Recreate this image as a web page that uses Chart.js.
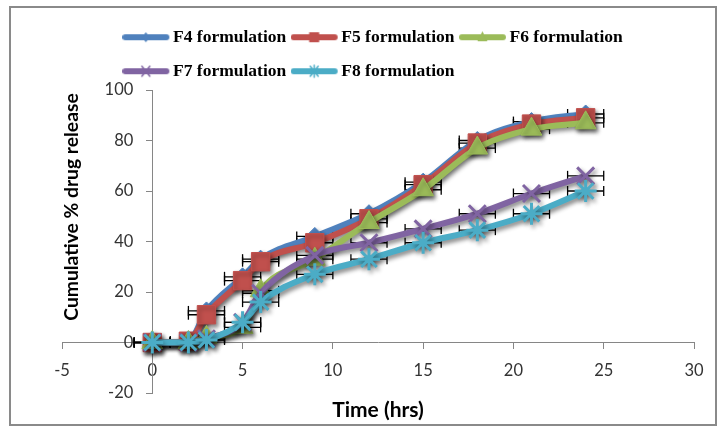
<!DOCTYPE html>
<html>
<head>
<meta charset="utf-8">
<script src="https://cdn.jsdelivr.net/npm/chart.js@4.4.1/dist/chart.umd.min.js"></script>
<style>
html, body { margin: 0; padding: 0; background: #ffffff; }
#wrap { width: 720px; height: 429px; position: relative; }
canvas { display: block; }
</style>
</head>
<body>
<div id="wrap"><canvas id="chart" width="720" height="429"></canvas></div>
<script>
// ---- data ----
const times = [0, 2, 3, 5, 6, 9, 12, 15, 18, 21, 24];           // hrs
const f4 = [0, 0.5, 12.5, 26, 33, 42, 51, 63.5, 80, 87.5, 90.5];
const f5 = [0, 0.5, 11, 24.5, 32, 39.5, 49, 62.5, 79, 86.5, 89];
const f6 = [0, 0, 2, 6, 20.5, 33, 47.5, 60.5, 77, 84.5, 87];
const f7 = [0, 0, 1.5, 8, 19.5, 34.5, 39.5, 45, 51, 59, 66];
const f8 = [0, 0, 1, 8, 16, 27, 33, 39.5, 44.5, 51, 60];
const timeErr = [1, 1, 1, 1, 1, 1, 1, 1, 1, 1, 1];               // ± hrs (horizontal error bars)
const seriesNames = ['F4 formulation', 'F5 formulation', 'F6 formulation', 'F7 formulation', 'F8 formulation'];
const xTitle = 'Time (hrs)';
const yTitle = 'Cumulative % drug release';
const xRange = [-5, 30];
const yRange = [-20, 100];

// ---- styles ----
const seriesValues = [f4, f5, f6, f7, f8];
const colors = ['#4F81BD', '#C0504D', '#9BBB59', '#8064A2', '#4BACC6'];
const markers = ['rectRot', 'rect', 'triangle', 'crossRot', 'star'];
const markerRadius = [9, 13, 12, 12, 11];
const markerBorder = [1, 1, 1, 3, 3];

function toPoints(vals) { return times.map((t, i) => ({ x: t, y: vals[i] })); }
function errPoints(vals) {
  const pts = [];
  times.forEach((t, i) => {
    pts.push({ x: t - timeErr[i], y: vals[i] });
    pts.push({ x: t + timeErr[i], y: vals[i] });
    pts.push({ x: t + timeErr[i], y: null });
  });
  return pts;
}

// small legend icon: thick line with a small marker
function legendIcon(idx) {
  const c = document.createElement('canvas');
  c.width = 54; c.height = 24;
  const g = c.getContext('2d');
  const col = colors[idx];
  g.strokeStyle = col; g.fillStyle = col;
  g.lineWidth = 6; g.lineCap = 'round';
  g.beginPath(); g.moveTo(3, 12); g.lineTo(44, 12); g.stroke();
  const cx = 23.5, cy = 12;
  g.lineWidth = 1.5;
  const m = markers[idx];
  g.beginPath();
  if (m === 'rect') { g.fillRect(cx - 5, cy - 5, 10, 10); }
  else if (m === 'rectRot') { g.moveTo(cx, cy - 5); g.lineTo(cx + 4, cy); g.lineTo(cx, cy + 5); g.lineTo(cx - 4, cy); g.closePath(); g.fill(); }
  else if (m === 'triangle') { g.moveTo(cx, cy - 6); g.lineTo(cx + 5, cy + 4); g.lineTo(cx - 5, cy + 4); g.closePath(); g.fill(); }
  else if (m === 'crossRot') { g.moveTo(cx - 4, cy - 5); g.lineTo(cx + 4, cy + 5); g.moveTo(cx + 4, cy - 5); g.lineTo(cx - 4, cy + 5); g.stroke(); }
  else { g.moveTo(cx - 4, cy - 5); g.lineTo(cx + 4, cy + 5); g.moveTo(cx + 4, cy - 5); g.lineTo(cx - 4, cy + 5); g.moveTo(cx, cy - 6); g.lineTo(cx, cy + 6); g.stroke(); }
  return c;
}

const datasets = [];
seriesValues.forEach((vals, i) => {
  datasets.push({
    label: seriesNames[i],
    data: toPoints(vals),
    showLine: true,
    borderColor: colors[i],
    backgroundColor: colors[i],
    borderWidth: 6,
    cubicInterpolationMode: 'monotone',
    pointStyle: markers[i],
    pointRadius: markerRadius[i],
    pointHoverRadius: markerRadius[i],
    pointBorderWidth: markerBorder[i],
    pointBackgroundColor: colors[i],
    pointBorderColor: colors[i],
    order: 5 - i,
    clip: false
  });
});
seriesValues.forEach((vals, i) => {
  datasets.push({
    label: 'err' + i,
    data: errPoints(vals),
    showLine: true,
    spanGaps: false,
    borderColor: '#000000',
    borderWidth: 1.3,
    pointStyle: 'line',
    rotation: 90,
    pointRadius: 5,
    pointBorderWidth: 1.3,
    pointBorderColor: '#000000',
    pointBackgroundColor: '#000000',
    order: 20 + i,
    clip: false
  });
});

const shadowPlugin = {
  id: 'shadowPlugin',
  beforeDatasetDraw(chart, args) {
    const ctx = chart.ctx;
    ctx.save();
    if (args.index < seriesValues.length) {
      ctx.shadowColor = 'rgba(0,0,0,0.45)';
      ctx.shadowBlur = 4;
      ctx.shadowOffsetX = 2;
      ctx.shadowOffsetY = 3;
    }
  },
  afterDatasetDraw(chart) { chart.ctx.restore(); }
};

const framePlugin = {
  id: 'framePlugin',
  beforeDraw(chart) {
    const ctx = chart.ctx;
    ctx.save();
    ctx.fillStyle = '#ffffff';
    ctx.fillRect(0, 0, chart.width, chart.height);
    ctx.strokeStyle = '#8a8a8a';
    ctx.lineWidth = 2;
    ctx.strokeRect(10, 7, chart.width - 14, chart.height - 11);
    ctx.restore();
  }
};

const legendShift = {
  id: 'legendShift',
  afterLayout(chart) { chart.legend.left = chart.chartArea.left + 56; }
};

const axisTitles = {
  id: 'axisTitles',
  afterDraw(chart) {
    const { ctx, chartArea } = chart;
    ctx.save();
    ctx.fillStyle = '#000000';
    ctx.font = 'bold 21px Lato';
    ctx.textAlign = 'center';
    ctx.textBaseline = 'middle';
    ctx.fillText(xTitle, (chartArea.left + chartArea.right) / 2, chartArea.bottom + 17);
    ctx.translate(chartArea.left + 10, chartArea.top + 117);
    ctx.rotate(-Math.PI / 2);
    ctx.font = 'bold 19.3px Lato';
    ctx.fillText(yTitle, 0, 0);
    ctx.restore();
  }
};

const tickFont = { family: 'Lato', size: 16.5 };

new Chart(document.getElementById('chart'), {
  type: 'scatter',
  data: { datasets },
  plugins: [framePlugin, shadowPlugin, legendShift, axisTitles],
  options: {
    responsive: false,
    animation: false,
    devicePixelRatio: 1,
    layout: { padding: { left: 62, right: 26, top: 12, bottom: 36 } },
    scales: {
      x: {
        type: 'linear',
        min: xRange[0], max: xRange[1],
        position: { y: 0 },
        ticks: { stepSize: 5, font: tickFont, color: '#333333', padding: 12 },
        grid: { display: true, drawOnChartArea: false, drawTicks: true, tickLength: 6, color: '#868686' },
        border: { display: true, color: '#868686', width: 1 }
      },
      y: {
        type: 'linear',
        min: yRange[0], max: yRange[1],
        position: { x: 0 },
        ticks: { stepSize: 20, display: false },
        grid: { display: true, drawOnChartArea: false, drawTicks: true, tickLength: 6, color: '#868686' },
        border: { display: true, color: '#868686', width: 1 }
      },
      yLabels: {
        type: 'linear',
        axis: 'y',
        min: yRange[0], max: yRange[1],
        position: { x: -1.05 },
        ticks: { stepSize: 20, font: tickFont, color: '#333333' },
        grid: { display: false },
        border: { display: false }
      }
    },
    plugins: {
      tooltip: { enabled: false },
      legend: {
        display: true,
        position: 'top',
        align: 'start',
        labels: {
          usePointStyle: true,
          pointStyleWidth: 29.75,
          padding: 16.5,
          color: '#000000',
          font: { family: 'Liberation Serif', size: 17.5, weight: 'bold' },
          generateLabels() {
            return seriesNames.map((name, i) => ({
              text: name,
              fillStyle: colors[i],
              strokeStyle: 'transparent',
              lineWidth: 0,
              pointStyle: legendIcon(i),
              hidden: false,
              datasetIndex: i,
              fontColor: '#000000'
            }));
          }
        }
      }
    }
  }
});
</script>
</body>
</html>
